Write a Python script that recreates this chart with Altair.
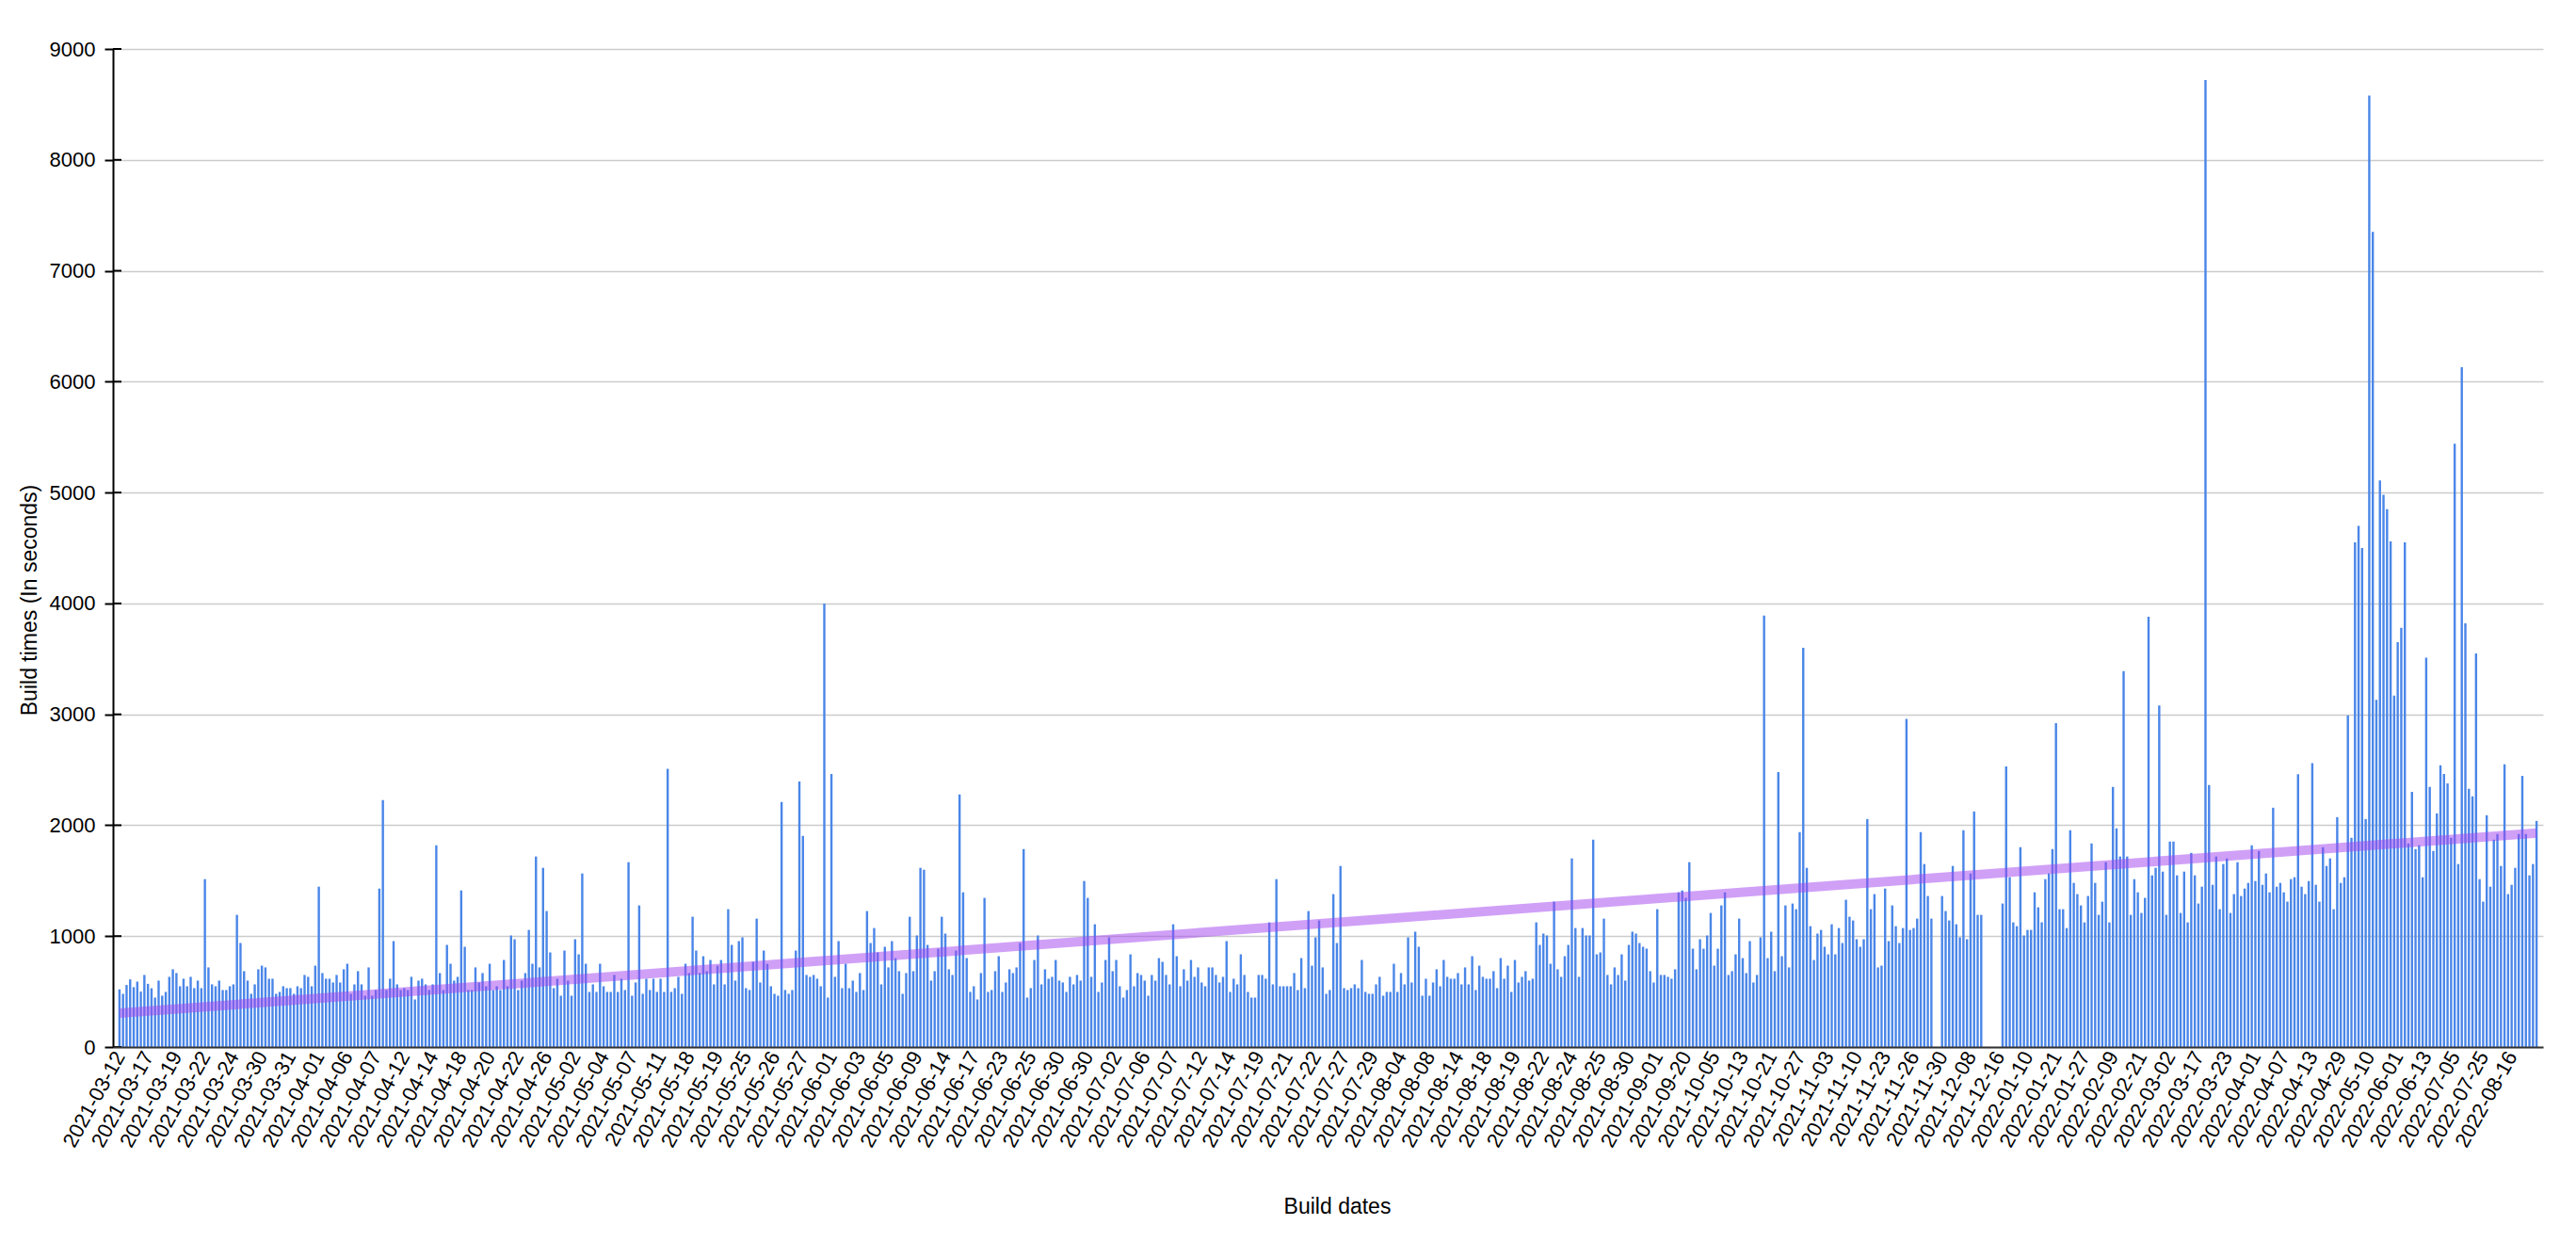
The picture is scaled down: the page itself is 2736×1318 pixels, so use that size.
import altair as alt
import pandas as pd

# ---- bar values (build time in seconds), left to right ----
s1 = [520,480,560,610,540,590,500,650,570,530,
      446,599,463,497,633,701,667,548,616,548,
      633,531,599,531,1514,718,565,548,599,514,
      514,548,565,1192,938,684,599,480,565,701,
      734,718,616,616,480,497,548,531,531,480,
      548,531,650,633,548,734,1446,667,616,616,
      582,650,582,701,751,480,565,684,565,463,
      718,463,514,1429,2226,514,616,955,565,514,
      531,514,633,429,599,616,565,514,565,1819,
      667,514,921,751,599,633,1412,904,514,514,
      718,582,667,548,751,514,548,514,785,548,
      1006,972]
s2 = [514,599,667,1056,751,1718,718,1616,1226,853,
      531,616,463,870,599,463,972,836,1565,751,
      497,565,497,751,548,497,497,650,497,616,
      514,1667,463,582,1277,480,616,514,616,497,
      616,497,2510,497,531,633,480,751,667,1175,
      870,667,819,684,785,565,734,785,565,
      1243,921,599,955,989,531,514,768,1158,582,
      870,751,548,480,463,2209,514,480,514,870,
      2395,1904,650,633,650,616,548,4000,446,2463,
      633,955,531,751,531,599,497,667,514,1226,
      938,1073,853,565,904,718,955,802,684,480,
      667,1175,684,1006,1616,1599]
s3 = [921,599,684,887,1175,1023,701,650,870,
      2277,1395,802,497,548,429,667,1345,497,514,
      684,819,497,582,701,667,718,938,1785,446,
      531,785,1006,565,701,616,633,785,599,
      582,497,633,565,650,599,1497,1345,633,1107,
      497,582,785,989,684,785,548,446,514,836,
      548,667,650,599,463,650,599,802,768,650,
      565,1107,819,548,701,599,785,633,718,582,
      548,718,718,650,582,633,955,497,616,565,
      836,650,497,446,446,650,650,616,1124,565,
      1514,548,548,548,548,667,514,802,531,1226,
      734,989,1141,718,480]
s4 = [514,1379,938,1633,531,514,531,565,531,785,
      497,480,480,565,633,463,497,497,751,497,
      667,565,989,582,1040,904,463,616,463,
      582,701,548,785,633,616,616,667,565,718,
      565,819,514,734,633,616,616,684,531,802,
      616,734,497,785,582,633,684,599,616,
      1124,921,1023,1006,751,1311,701,633,819,921,
      1701,1073,633,1073,1006,1006,1870,836,853,1158,
      650,565,718,650,836,599,921,1040,1023,938,
      904,887,684,582,1243,650,650,633,616,701,
      1395,1412,1345,1667,887,701,972,887,1006,1209,
      734,887,1277,1395,650]
s5 = [684,836,1158,802,667,955,582,650,989,3890,
      802,1040,684,2480,819,1277,718,1294,1243,
      1938,3600,1616,1090,785,1023,1056,904,836,1107,
      836,1073,938,1328,1175,1141,972,904,972,2056,
      1243,1379,718,734,1429,955,1277,1090,938,1073,
      2960,1056,1073,1158,1938,1650,1362,1158,0,0,
      1362,1226,1141,1633,1107,989,1955,972,1565,
      2124,1192,1192,0,0,0,0,0,1294,2530,
      1531,1124,1090,1802,1006,1056,1056,1395,1260,1124,
      1514,1565,1785,2920,1243,1243,1073,1955,1480,1379,
      1277,1124,1362,1836,1480,1192,1311,1667,1124,
      2345,1972,1718,3390,1718]
s6 = [1192,1514,1395,1209,1345,3880,1548,1616,3080,1582,
      1192,1853,1853,1548,1209,1582,1124,1751,1548,1294,
      1446,8720,2362,1463,1718,1243,1650,1701,1209,1379,
      1667,1362,1429,1480,1819,1497,1768,1463,1565,1395,
      2158,1446,1480,1395,1311,1514,1531,2460,1446,1379,
      1497,2560,1463,1311,1802,1633,1701,1243,2073,1480,
      1531,2990,1887,4550,4700,4500,2056,8580,7350,3130,
      5110,4980,4850,4560,3170,3650,3780,4550,1836,2300,
      1785,1819,1531,3510,2345,1768,2107,2540,2463,
      2378,1887,5440,1650,6130,3820,2328,2260,3550,1514,
      1311,2090,1446,1870,1921,1633,2550,1379,1463,1616,
      1921,2446,1921,1548,1650,2039]
values = s1 + s2 + s3 + s4 + s5 + s6

# ---- x tick labels (one every 8 builds) ----
labels = ["2021-03-12","2021-03-17","2021-03-19","2021-03-22","2021-03-24","2021-03-30",
          "2021-03-31","2021-04-01","2021-04-06","2021-04-07","2021-04-12","2021-04-14",
          "2021-04-18","2021-04-20","2021-04-22","2021-04-26","2021-05-02","2021-05-04",
          "2021-05-07","2021-05-11","2021-05-18","2021-05-19","2021-05-25","2021-05-26",
          "2021-05-27","2021-06-01","2021-06-03","2021-06-05","2021-06-09","2021-06-14",
          "2021-06-17","2021-06-23","2021-06-25","2021-06-30","2021-06-30","2021-07-02",
          "2021-07-06","2021-07-07","2021-07-12","2021-07-14","2021-07-19","2021-07-21",
          "2021-07-22","2021-07-27","2021-07-29","2021-08-04","2021-08-08","2021-08-14",
          "2021-08-18","2021-08-19","2021-08-22","2021-08-24","2021-08-25","2021-08-30",
          "2021-09-01","2021-09-20","2021-10-05","2021-10-13","2021-10-21","2021-10-27",
          "2021-11-03","2021-11-10","2021-11-23","2021-11-26","2021-11-30","2021-12-08",
          "2021-12-16","2022-01-10","2022-01-21","2022-01-27","2022-02-09","2022-02-21",
          "2022-03-02","2022-03-17","2022-03-23","2022-04-01","2022-04-07","2022-04-13",
          "2022-04-29","2022-05-10","2022-06-01","2022-06-13","2022-07-05","2022-07-25",
          "2022-08-16"]
label_step = 8
y_ticks = [0, 1000, 2000, 3000, 4000, 5000, 6000, 7000, 8000, 9000]

# ---- linear trendline end values ----
trend_val = [305, 1930]

N = len(values)
df = pd.DataFrame({"i": list(range(N)), "v": values})
tdf = pd.DataFrame({"i": [0, N - 1], "v": trend_val})
ydf = pd.DataFrame({"v": y_ticks})

label_js = "[" + ",".join("'" + l + "'" for l in labels) + "]"
FONT = "Liberation Sans"

xscale = alt.Scale(domain=[-0.5, N - 0.5], nice=False, zero=False)
yscale = alt.Scale(domain=[0, 9000], nice=False)

x_axis = alt.Axis(
    values=list(range(0, N, label_step))[:len(labels)],
    labelExpr=label_js + "[round(datum.value/" + str(label_step) + ")]",
    labelAngle=-61, labelFontSize=22, labelFont=FONT, labelColor="#000000",
    labelOverlap=False, labelSeparation=0, labelFlush=False, labelBound=False, labelPadding=6,
    ticks=False, grid=False, domainColor="#333333", domainWidth=2, zindex=1,
    title="Build dates", titleFont=FONT, titleFontSize=23, titleFontWeight="normal",
    titleColor="#000000", titleX=1300, titleY=158, titleBaseline="top",
)
y_axis = alt.Axis(
    values=y_ticks, format="d",
    labelFontSize=22, labelFont=FONT, labelColor="#000000", labelPadding=10,
    tickColor="#000000", tickWidth=2, tickSize=9,
    domainColor="#000000", domainWidth=2,
    grid=True, gridColor="#cccccc", gridWidth=1.5,
    title="Build times (In seconds)", titleFont=FONT, titleFontSize=23,
    titleFontWeight="normal", titleColor="#000000", titleX=-77, titleY=585,
)

bars = alt.Chart(df).mark_bar(color="#4a86e8", size=2.4).encode(
    x=alt.X("i:Q", scale=xscale, axis=x_axis),
    y=alt.Y("v:Q", scale=yscale, axis=y_axis),
)
trend = alt.Chart(tdf).mark_line(color="#a241ef", opacity=0.5, strokeWidth=10, strokeCap="butt").encode(
    x=alt.X("i:Q", scale=xscale, axis=x_axis),
    y=alt.Y("v:Q", scale=yscale, axis=y_axis),
)
# inner half of the y-axis tick marks (they cross the axis line in the original)
stubs = alt.Chart(ydf).mark_rule(color="#000000", strokeWidth=2).encode(
    x=alt.value(0), x2=alt.value(9),
    y=alt.Y("v:Q", scale=yscale, axis=y_axis),
)

chart = (
    alt.layer(bars, trend, stubs)
    .properties(
        width=2581, height=1060,
        padding={"left": 112, "top": 44, "right": 20, "bottom": 190},
        autosize=alt.AutoSizeParams(type="none"),
    )
    .configure(background="white")
    .configure_view(strokeWidth=0)
    .configure_axisX(labelOverlap=False)
)

chart.save("out.html", embed_options={"renderer": "svg", "actions": False})
